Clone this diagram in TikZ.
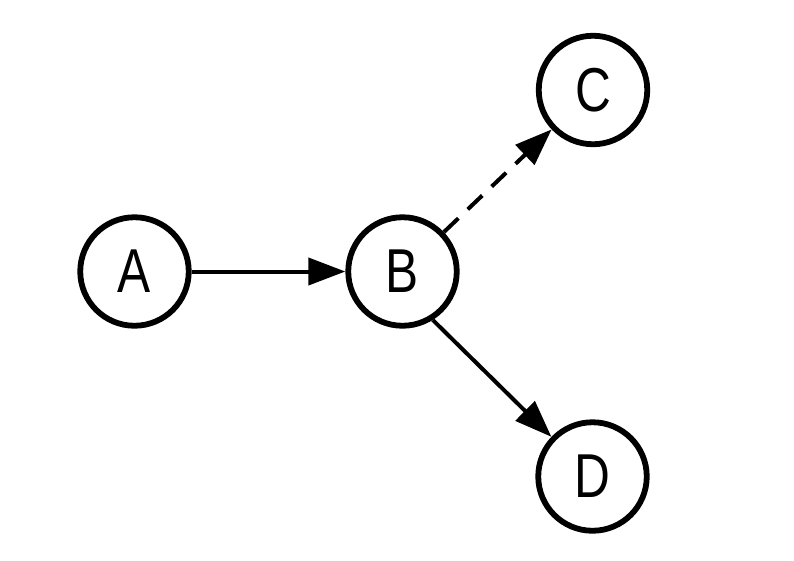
\documentclass[tikz,border=0pt]{standalone}
\usepackage{fontspec}
\setmainfont[FakeStretch=0.8]{Liberation Sans}
\usetikzlibrary{arrows.meta}
\begin{document}
\begin{tikzpicture}[x=1pt,y=-1pt,
  vertex/.style={circle,draw=black,line width=5.8pt,minimum size=108.5pt,inner sep=0pt,font=\fontsize{62}{62}\selectfont},
  link/.style={line width=4pt,-{Triangle[length=37pt,width=27pt]}},
  dlink/.style={link,dash pattern=on 20pt off 13pt}]
\useasboundingbox (0,0) rectangle (794,560);
\node[vertex] (A) at (134.5,271.5) {A};
\node[vertex] (B) at (402.5,271.5) {B};
\node[vertex] (C) at (593,90) {C};
\node[vertex] (D) at (592.5,476.5) {D};
\draw[link] (A) -- (B);
\draw[dlink] (B) -- (C);
\draw[link] (B.-58) -- (D.136);
\end{tikzpicture}
\end{document}
